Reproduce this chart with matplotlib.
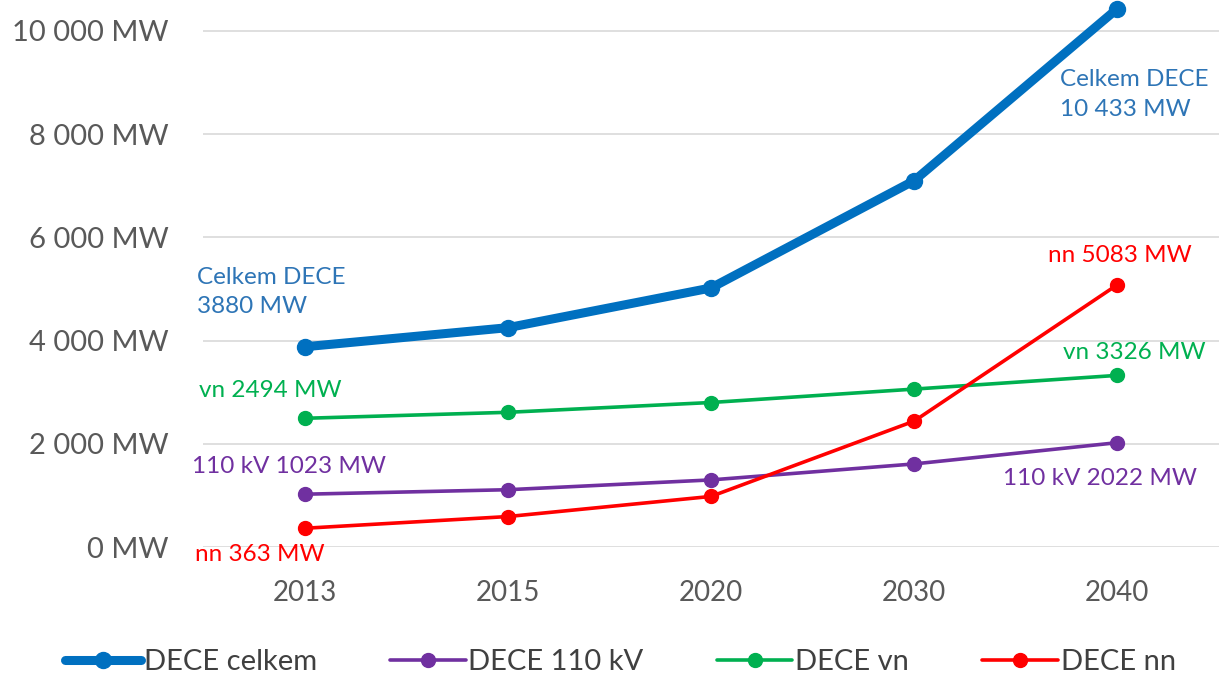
import numpy as np
import matplotlib as mpl
mpl.use("Agg")
import matplotlib.pyplot as plt
from matplotlib.ticker import FuncFormatter

plt.rcParams['font.family'] = ['Lato', 'DejaVu Sans']

years = ['2013', '2015', '2020', '2030', '2040']
celkem = [3880, 4250, 5020, 7100, 10433]
kv110 = [1023, 1110, 1300, 1610, 2022]
vn = [2494, 2610, 2800, 3060, 3326]
nn = [363, 590, 980, 2440, 5083]

series = [
    ('DECE celkem', celkem, '#0070C0', 6.5, 11.5),
    ('DECE 110 kV', kv110, '#7030A0', 2.6, 10),
    ('DECE vn', vn, '#00B050', 2.6, 10),
    ('DECE nn', nn, '#FF0000', 2.6, 10),
]

fig = plt.figure(figsize=(12.19, 6.73), dpi=100)
ax = fig.add_axes([203 / 1219, 126 / 673, 1016 / 1219, 547 / 673])

x = np.arange(len(years))
for name, vals, col, lw, ms in series:
    ax.plot(x, vals, color=col, lw=lw, marker='o', ms=ms, label=name,
            solid_capstyle='round', zorder=3, clip_on=False)

ax.set_xlim(-0.5, len(years) - 0.5)
ax.set_ylim(0, 10600)
ax.set_yticks(range(0, 10001, 2000))
ax.yaxis.set_major_formatter(FuncFormatter(lambda v, p: f"{int(v):,}".replace(',', ' ') + ' MW'))
ax.set_xticks(x)
ax.set_xticklabels(years)
ax.grid(axis='y', color='#D9D9D9', lw=1.2)
ax.set_axisbelow(True)
for s in ax.spines.values():
    s.set_visible(False)
ax.tick_params(axis='y', length=0, pad=25, labelsize=21, labelcolor='#595959')
ax.tick_params(axis='x', length=0, pad=24, labelsize=20, labelcolor='#595959')

# data labels: (values, point index, text, dx px, dy px, color)
labels = [
    (celkem, 0, 'Celkem DECE\n3880 MW', -108, 55, '#2E75B6'),
    (vn, 0, 'vn 2494 MW', -106, 28, '#00B050'),
    (kv110, 0, '110 kV 1023 MW', -113, 28, '#7030A0'),
    (nn, 0, 'nn 363 MW', -110, -26, '#FF0000'),
    (celkem, 4, 'Celkem DECE\n10 433 MW', -57, -86, '#2E75B6'),
    (nn, 4, 'nn 5083 MW', -69, 29, '#FF0000'),
    (vn, 4, 'vn 3326 MW', -54, 23, '#00B050'),
    (kv110, 4, '110 kV 2022 MW', -114, -36, '#7030A0'),
]
for vals, i, txt, dx, dy, col in labels:
    ax.annotate(txt, (x[i], vals[i]), xytext=(dx, dy), textcoords='offset pixels',
                ha='left', va='center', fontsize=17.5, color=col, linespacing=1.5,
                annotation_clip=False)

fig.legend(loc='center', bbox_to_anchor=(0.509, 1 - 662 / 673), ncol=4, frameon=False,
           fontsize=21, handlelength=2.6, columnspacing=2.5, handletextpad=0.1,
           labelcolor='#404040')

fig.savefig('out.png', dpi=100)
